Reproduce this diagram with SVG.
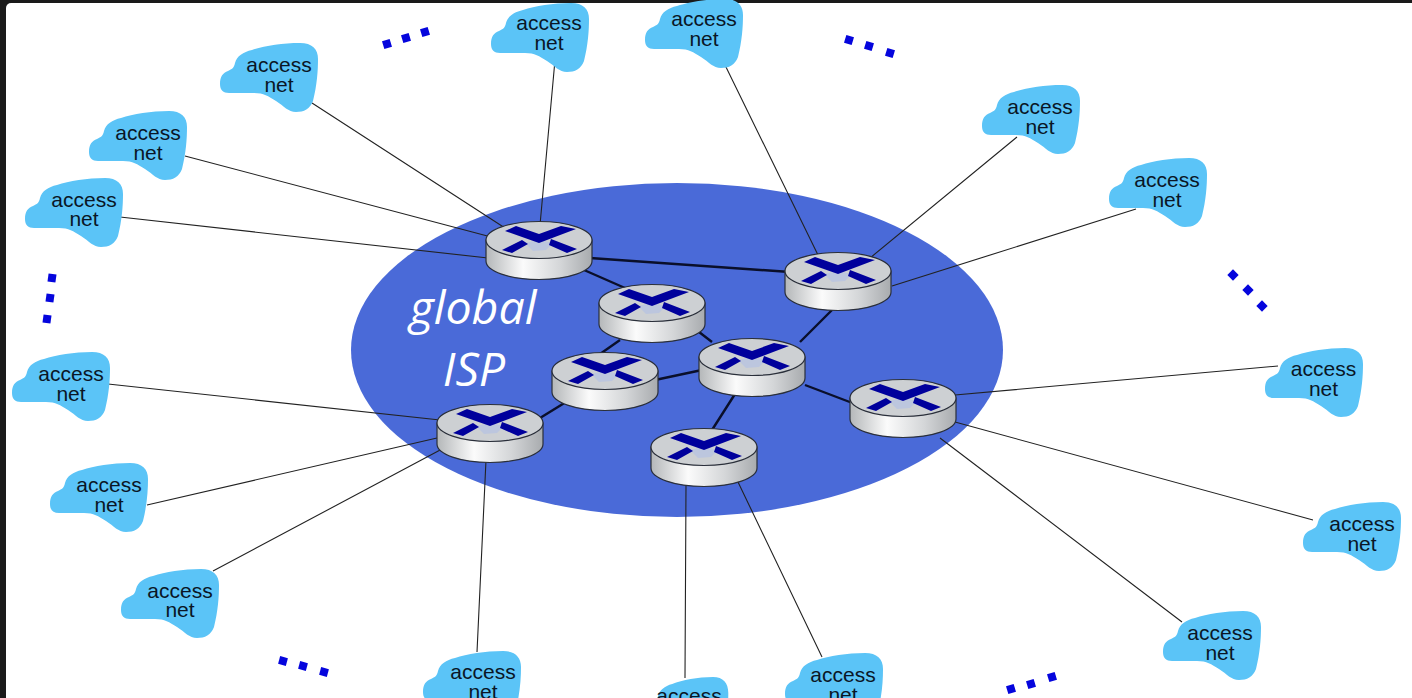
<svg xmlns="http://www.w3.org/2000/svg" width="1412" height="698" viewBox="0 0 1412 698">
<style>
.thin{stroke:#222;stroke-width:1.1;fill:none}
.thick{stroke:#0a0f2a;stroke-width:2.4;fill:none}
.t{font-family:"Liberation Sans",Arial,sans-serif;font-size:21px;fill:#0a1626;text-anchor:middle}
.isp{font-family:"Open Sans",sans-serif;font-style:italic;font-weight:500;font-size:46.500px;fill:#fff;text-anchor:middle}
.d{fill:#0505dd}
</style>
<defs>
<path id="cloud" fill="#5bc4f7" d="M0,41C0,33 3,30 8,28C12,26 14,25 15,20C17,13 23,9 32,7C44,3 62,0 80,0C92,0 98,6 98,16C98,28 97,42 93,58C90,66 84,69 76,69C68,69 64,63 56,58C48,53 44,50 34,50L9,50C3,50 0,47 0,41Z"/>
<linearGradient id="side" x1="0" x2="1" y1="0" y2="0">
<stop offset="0" stop-color="#b4b7b9"/><stop offset=".35" stop-color="#fbfbfb"/><stop offset=".7" stop-color="#d4d6d8"/><stop offset="1" stop-color="#a8abae"/>
</linearGradient>
<g id="router">
<path d="M-53,0V21A53,18.5 0 0 0 53,21V0Z" fill="url(#side)" stroke="#2a2f3a" stroke-width="1.2"/>
<ellipse rx="53" ry="18.5" fill="#cdd0d3" stroke="#2a2f3a" stroke-width="1.2"/>
<path d="M-14,3L0,0 14,3 7,10 -6,11Z" fill="#bcc6de"/>
<path d="M-34,-9L-23,-14 0,-6 22,-14 37,-11 0,3Z M-37,10L-17,0 -11,4 -27,13Z M12,-1L38,9 28,13 10,5Z" fill="#00009c"/>
</g>
</defs>
<rect width="1412" height="698" fill="#1a1a1a"/>
<rect x="6" y="3" width="1420" height="710" rx="5" fill="#fff"/>
<ellipse id="isp-cloud" cx="677" cy="350" rx="326" ry="167" fill="#4a6ad8"/>
<g id="connectors">
<path class="thin" d="M555,60L540,225M725,65L818,255M312,103L505,228M185,156L495,238M120,217L488,258M1017,137L870,258M1136,209L892,286M108,384L440,420M1278,366L955,395M147,505L437,438M1313,520L955,422M213,571L442,449M1182,622L940,438M477,652L486,460M685,678L686,485M822,657L738,482"/>
<path class="thick" d="M590,258L790,272M584,270L625,288M620,340L600,354M690,325L712,342M832,310L800,342M655,380L702,370M805,385L855,404M735,394L712,430M566,402L540,418"/>
</g>
<g id="net-1"><use href="#cloud" x="491" y="3"/><text class="t" x="549" y="30">access</text><text class="t" x="549" y="50">net</text></g>
<g id="net-2"><use href="#cloud" x="645" y="-1"/><text class="t" x="704" y="26">access</text><text class="t" x="704" y="46">net</text></g>
<g id="net-3"><use href="#cloud" x="220" y="43"/><text class="t" x="279" y="72">access</text><text class="t" x="279" y="92">net</text></g>
<g id="net-4"><use href="#cloud" x="89" y="111"/><text class="t" x="148" y="140">access</text><text class="t" x="148" y="160">net</text></g>
<g id="net-5"><use href="#cloud" x="25" y="178"/><text class="t" x="84" y="207">access</text><text class="t" x="84" y="226">net</text></g>
<g id="net-6"><use href="#cloud" x="982" y="85"/><text class="t" x="1040" y="114">access</text><text class="t" x="1040" y="134">net</text></g>
<g id="net-7"><use href="#cloud" x="1109" y="158"/><text class="t" x="1167" y="187">access</text><text class="t" x="1167" y="207">net</text></g>
<g id="net-8"><use href="#cloud" x="12" y="352"/><text class="t" x="71" y="381">access</text><text class="t" x="71" y="401">net</text></g>
<g id="net-9"><use href="#cloud" x="1265" y="348"/><text class="t" x="1323.500" y="376">access</text><text class="t" x="1323.500" y="396">net</text></g>
<g id="net-10"><use href="#cloud" x="50" y="463"/><text class="t" x="109" y="492">access</text><text class="t" x="109" y="512">net</text></g>
<g id="net-11"><use href="#cloud" x="1303" y="502"/><text class="t" x="1362" y="531">access</text><text class="t" x="1362" y="551">net</text></g>
<g id="net-12"><use href="#cloud" x="121" y="569"/><text class="t" x="180" y="598">access</text><text class="t" x="180" y="617">net</text></g>
<g id="net-13"><use href="#cloud" x="1163" y="611"/><text class="t" x="1220" y="640">access</text><text class="t" x="1220" y="660">net</text></g>
<g id="net-14"><use href="#cloud" x="423" y="651"/><text class="t" x="483" y="679">access</text><text class="t" x="483" y="699">net</text></g>
<g id="net-15"><use href="#cloud" transform="translate(645,677) scale(.85,1)"/><text class="t" x="689" y="703">access</text></g>
<g id="net-16"><use href="#cloud" x="785" y="653"/><text class="t" x="843" y="682">access</text><text class="t" x="843" y="702">net</text></g>
<g id="router-1"><use href="#router" x="539" y="240"/></g>
<g id="router-2"><use href="#router" x="838" y="271"/></g>
<g id="router-3"><use href="#router" x="652" y="303"/></g>
<g id="router-4"><use href="#router" x="752" y="357"/></g>
<g id="router-5"><use href="#router" x="605" y="371"/></g>
<g id="router-6"><use href="#router" x="903" y="398"/></g>
<g id="router-7"><use href="#router" x="490" y="423"/></g>
<g id="router-8"><use href="#router" x="704" y="447"/></g>
<text class="isp" x="473" y="324">global</text>
<text class="isp" x="474" y="386">ISP</text>
<g class="d">
<rect x="383" y="40" width="8" height="8" transform="rotate(-17 387 44)"/><rect x="402" y="34" width="8" height="8" transform="rotate(-17 406 38)"/><rect x="421" y="28" width="8" height="8" transform="rotate(-17 425 32)"/>
<rect x="845" y="36" width="8" height="8" transform="rotate(17 849 40)"/><rect x="865" y="42" width="8" height="8" transform="rotate(17 869 46)"/><rect x="886" y="49" width="8" height="8" transform="rotate(17 890 53)"/>
<rect x="48" y="274" width="8" height="8" transform="rotate(8 52 278)"/><rect x="46" y="294" width="8" height="8" transform="rotate(8 50 298)"/><rect x="43" y="315" width="8" height="8" transform="rotate(8 47 319)"/>
<rect x="1229" y="271" width="8" height="8" transform="rotate(45 1233 275)"/><rect x="1244" y="286" width="8" height="8" transform="rotate(45 1248 290)"/><rect x="1258" y="302" width="8" height="8" transform="rotate(45 1262 306)"/>
<rect x="279" y="657" width="8" height="8" transform="rotate(15 283 661)"/><rect x="299" y="662" width="8" height="8" transform="rotate(15 303 666)"/><rect x="320" y="668" width="8" height="8" transform="rotate(15 324 672)"/>
<rect x="1007" y="685" width="8" height="8" transform="rotate(-17 1011 689)"/><rect x="1027" y="680" width="8" height="8" transform="rotate(-17 1031 684)"/><rect x="1048" y="673" width="8" height="8" transform="rotate(-17 1052 677)"/>
</g>
</svg>
